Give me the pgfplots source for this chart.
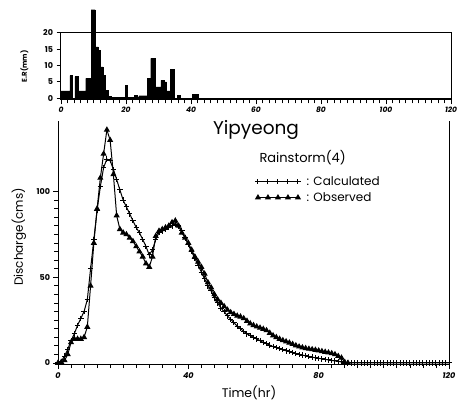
\documentclass[border=0pt]{standalone}
\usepackage{fontspec}
\setmainfont{Poppins}
\usepackage{pgfplots}
\pgfplotsset{compat=1.18}
\usepackage{pgfplotstable}

\pgfplotstableread{
t C O
0 0 0
1 1 0.5
2 4 1.5
3 8 5
4 13 12
5 17 14
6 22 14
7 26 14
8 30 15
9 37 21
10 55 45
11 72 70
12 89 90
13 103 108
14 114 122
15 119 136
16 118 130
17 113 110
18 107 86
19 101 78
20 95 76
21 91 75
22 87 73
23 83 71
24 79 68
25 76 65
26 72 62
27 68 58
28 63 56
29 66 62
30 72 74
31 76 77
32 77 78
33 78 79
34 79 80
35 80 82
36 81 83
37 80 80
38 77 76
39 73 73
40 69 70
41 65 66
42 61 62
43 57 59
44 53 56
45 49 52
46 45 47
47 42 44
48 38 40
49 35 37
50 32 35
51 30 33
52 27.5 31
53 25.5 29.5
54 23.5 28.5
55 21.5 27.5
56 20 27
57 18.5 26
58 17 24.5
59 16 23
60 15 22
61 14 21.2
62 13 20.5
63 12 19.8
64 11.2 19
65 10.4 17.5
66 9.6 16
67 9 15
68 8.3 14
69 7.7 13.2
70 7.1 12.5
71 6.6 11.8
72 6 11
73 5.5 10.2
74 5 9.5
75 4.6 9
76 4.2 8.6
77 3.8 8.2
78 3.4 7.9
79 3 7.6
80 2.7 7.2
81 2.4 6.8
82 2.1 6.4
83 1.8 6
84 1.5 5.6
85 1.2 5
86 1 4
87 0.6 3
88 0.2 0.5
89 0 0
90 0 nan
91 0 nan
92 0 nan
93 0 nan
94 0 nan
95 0 nan
96 0 nan
97 0 nan
98 0 nan
99 0 nan
100 0 nan
101 0 nan
102 0 nan
103 0 nan
104 0 nan
105 0 nan
106 0 nan
107 0 nan
108 0 nan
109 0 nan
110 0 nan
111 0 nan
112 0 nan
113 0 nan
114 0 nan
115 0 nan
116 0 nan
117 0 nan
118 0 nan
119 0 nan
120 0 nan
}\discharge

\pgfplotstableread{
t R
0 2.3
2.7 6.9
3.5 0
4.3 6.6
5.3 2.3
7.6 6.1
9.3 27
10.5 15.7
11.5 14.7
12.2 9.6
12.9 7.1
13.7 2.5
14.5 0.7
15.5 0.3
19.7 3.9
20.5 0.3
22.5 1
23.5 0.5
24 0.8
26.6 6.1
27.6 12.2
28.9 3.5
30.7 5.5
31.7 5.0
32.4 2.3
33.7 8.8
34.8 0
35.8 1
36.8 0
40.4 1.3
42.2 0
120 0
}\rain

\begin{document}
\begin{tikzpicture}
\useasboundingbox (0pt,0pt) rectangle (466pt,406pt);
\pgfplotsset{
  every axis/.append style={
    scale only axis,
    /pgf/number format/assume math mode=true,
    tick align=outside,
    major tick length=4.5pt,
    minor tick length=3.5pt,
    every tick/.style={black, line width=0.9pt},
    every minor tick/.style={black, line width=0.8pt},
    axis line style={line width=1pt},
    tick label style={font=\fontsize{8}{9}\selectfont\bfseries},
  }
}
% hyetograph
\begin{axis}[
  at={(61pt,306pt)}, anchor=south west,
  width=390pt, height=67.3pt,
  xmin=0, xmax=120, ymin=-0.5, ymax=20,
  xtick={0,20,...,120}, minor x tick num=9,
  ytick={0,5,10,15,20},
  xtick pos=bottom, ytick pos=left,
  xticklabel style={font=\fontsize{7.5}{9}\selectfont\bfseries\itshape},
  xticklabel shift=-1pt,
  clip=false,
  ylabel={E.R(mm)},
  ylabel style={font=\fontsize{7}{8}\selectfont\bfseries, at={(axis description cs:-0.075,0.5)}},
]
\addplot[fill=black, draw=black, const plot mark left] table[x=t, y=R] {\rain} \closedcycle;
\end{axis}
% hydrograph
\begin{axis}[
  at={(58pt,41.3pt)}, anchor=south west,
  width=391pt, height=243.4pt,
  xmin=0, xmax=120, ymin=-1, ymax=141,
  axis x line*=bottom, axis y line*=box,
  xtick={0,40,80,120}, minor x tick num=9,
  ytick={0,50,100}, minor y tick num=9,
  xtick pos=bottom, ytick pos=left,
  xticklabel style={font=\fontsize{8}{9}\selectfont\bfseries\itshape},
  unbounded coords=discard,
  legend style={at={(0.504,0.782)}, anchor=north west, draw=none, fill=none,
    font=\fontsize{12}{13}\selectfont, row sep=1.5pt, inner sep=0pt},
  legend cell align=left,
  legend image code/.code={\draw[#1, mark repeat=1] plot coordinates {(0pt,0pt)(10pt,0pt)(20pt,0pt)(30pt,0pt)(40pt,0pt)};},
]
\addplot[black, line width=1pt, mark=+, mark size=2.7pt, mark options={line width=1pt}] table[x=t, y=C] {\discharge};
\addlegendentry{\hspace{4pt}: Calculated}
\addplot[black, line width=1pt, mark=triangle*, mark size=2.6pt] table[x=t, y=O] {\discharge};
\addlegendentry{\hspace{4pt}: Observed}
\end{axis}
\node[anchor=base, font=\fontsize{18.5}{20}\selectfont] at (256pt,271pt) {Yipyeong};
\node[anchor=base west, font=\fontsize{13}{14}\selectfont] at (256pt,243pt) {Rainstorm(4)};
\node[rotate=90, font=\fontsize{12}{14}\selectfont] at (19pt,169pt) {Discharge(cms)};
\node[font=\fontsize{12.5}{14}\selectfont] at (249pt,13pt) {Time(hr)};
\end{tikzpicture}
\end{document}
